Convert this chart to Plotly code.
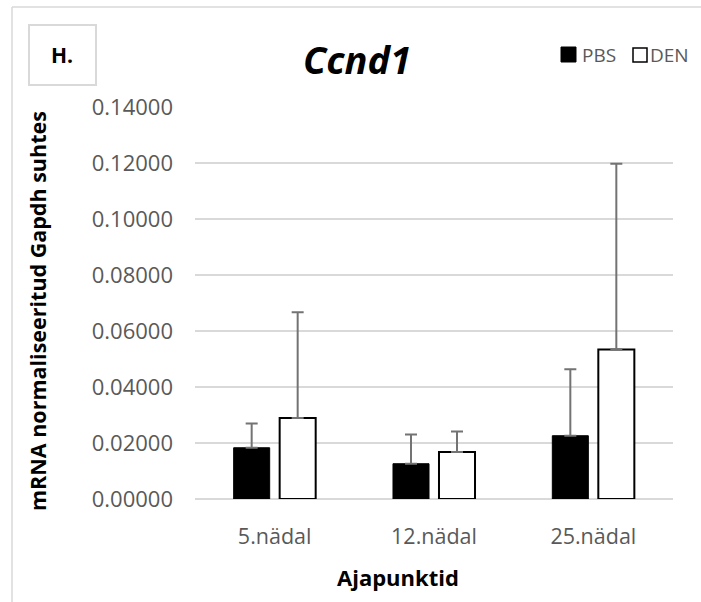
import plotly.graph_objects as go

categories = ["5.nädal", "12.nädal", "25.nädal"]
series_names = ["PBS", "DEN"]
pbs_values = [0.0183, 0.0126, 0.0226]
pbs_errors = [0.0087, 0.0104, 0.0237]
den_values = [0.0289, 0.0168, 0.0534]
den_errors = [0.0378, 0.0073, 0.0663]
y_ticks = [0.0, 0.02, 0.04, 0.06, 0.08, 0.10, 0.12, 0.14]

FONT = "Open Sans"
W, H = 701, 602
ML, MR, MT, MB = 195, 28, 107, 103
PW = W - ML - MR
PH = H - MT - MB


def X(px):
    return (px - ML) / PW


def Y(py):
    return (H - MB - py) / PH


fig = go.Figure()
fig.add_trace(go.Bar(
    x=categories, y=pbs_values, name=series_names[0],
    marker=dict(color="#000000", line=dict(color="#000000", width=1)),
    error_y=dict(type="data", array=pbs_errors, arrayminus=[0] * len(pbs_errors),
                 symmetric=False, color="#737373", thickness=2, width=6),
))
fig.add_trace(go.Bar(
    x=categories, y=den_values, name=series_names[1],
    marker=dict(color="#ffffff", line=dict(color="#000000", width=2)),
    error_y=dict(type="data", array=den_errors, arrayminus=[0] * len(den_errors),
                 symmetric=False, color="#737373", thickness=2, width=6),
))

shapes = [
    # outer chart frame (top and left edges)
    dict(type="line", xref="paper", yref="paper", x0=X(12), x1=X(701), y0=Y(7), y1=Y(7),
         line=dict(color="#d9d9d9", width=1.5)),
    dict(type="line", xref="paper", yref="paper", x0=X(12), x1=X(12), y0=Y(7), y1=Y(602),
         line=dict(color="#d9d9d9", width=1.5)),
    # "H." box
    dict(type="rect", xref="paper", yref="paper", x0=X(29), x1=X(96), y0=Y(25), y1=Y(85),
         line=dict(color="#d9d9d9", width=2), fillcolor="rgba(0,0,0,0)"),
    # legend swatches
    dict(type="rect", xref="paper", yref="paper", x0=X(561), x1=X(576), y0=Y(47), y1=Y(62),
         line=dict(color="#000000", width=1), fillcolor="#000000"),
    dict(type="rect", xref="paper", yref="paper", x0=X(633), x1=X(647), y0=Y(48), y1=Y(62),
         line=dict(color="#000000", width=1.5), fillcolor="#ffffff"),
]

annotations = [
    dict(text="<b>H.</b>", x=X(62), y=Y(55), xref="paper", yref="paper", showarrow=False,
         xanchor="center", yanchor="middle", font=dict(family=FONT, size=21, color="#000000")),
    dict(text="<b><i>Ccnd1</i></b>", x=X(357), y=Y(59), xref="paper", yref="paper", showarrow=False,
         xanchor="center", yanchor="middle", font=dict(family=FONT, size=38, color="#000000")),
    dict(text=series_names[0], x=X(580), y=Y(55), xref="paper", yref="paper", showarrow=False,
         xanchor="left", yanchor="middle", font=dict(family=FONT, size=19, color="#595959")),
    dict(text=series_names[1], x=X(648), y=Y(55), xref="paper", yref="paper", showarrow=False,
         xanchor="left", yanchor="middle", font=dict(family=FONT, size=19, color="#595959")),
    dict(text="<b>mRNA normaliseeritud Gapdh suhtes</b>", x=X(37), y=Y(311), xref="paper", yref="paper",
         showarrow=False, textangle=-90, xanchor="center", yanchor="middle",
         font=dict(family=FONT, size=21.5, color="#000000")),
    dict(text="<b>Ajapunktid</b>", x=X(398), y=Y(577), xref="paper", yref="paper", showarrow=False,
         xanchor="center", yanchor="middle", font=dict(family=FONT, size=22, color="#000000")),
]

fig.update_layout(
    width=W, height=H,
    margin=dict(l=ML, r=MR, t=MT, b=MB, autoexpand=False),
    paper_bgcolor="#ffffff", plot_bgcolor="#ffffff",
    barmode="group", bargap=0.4226, bargroupgap=0.217,
    showlegend=False,
    shapes=shapes, annotations=annotations,
    font=dict(family=FONT, color="#595959"),
)
fig.update_xaxes(
    showgrid=False, showline=False, ticks="", zeroline=False,
    tickfont=dict(family=FONT, size=21.5, color="#595959"), ticklabelstandoff=22,
)
fig.update_yaxes(
    range=[0, 0.14], tickvals=y_ticks, tickformat=".5f",
    showgrid=True, gridcolor="#d9d9d9", gridwidth=1.5,
    zeroline=True, zerolinecolor="#d9d9d9", zerolinewidth=1.5,
    showline=False, ticks="",
    tickfont=dict(family=FONT, size=22, color="#595959"), ticklabelstandoff=21,
)

fig.write_html("out.html", config={"displayModeBar": False},
               post_script="document.body.style.margin='0';")
